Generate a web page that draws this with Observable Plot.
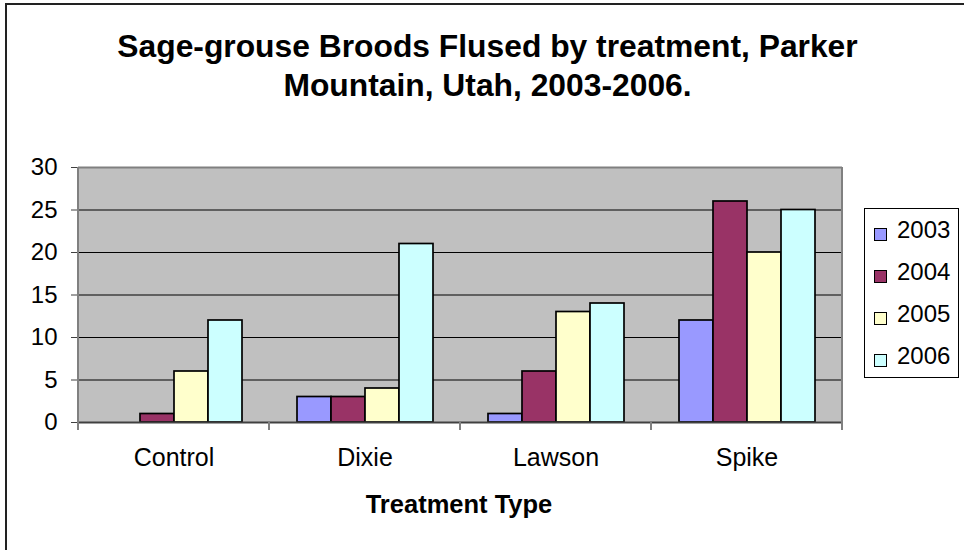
<!DOCTYPE html>
<html>
<head>
<meta charset="utf-8">
<script src="https://cdn.jsdelivr.net/npm/d3@7"></script>
<script src="https://cdn.jsdelivr.net/npm/@observablehq/plot@0.6"></script>
<style>
  body { margin: 0; background: #fff; }
  #wrap { position: relative; width: 964px; height: 550px; overflow: hidden;
          font-family: "Liberation Sans", Arial, sans-serif; color: #000; }
  #wrap svg { position: absolute; left: 0; top: 0; }
  .outer { position: absolute; left: 5px; top: 3px; width: 1000px; height: 600px;
           border-left: 2px solid #222; border-top: 2px solid #222; }
  .title { position: absolute; left: 0; width: 975px; text-align: center;
           font-weight: bold; font-size: 31.8px; line-height: 31.8px; white-space: nowrap; }
  .xtitle { position: absolute; left: 259px; width: 400px; text-align: center;
            font-weight: bold; font-size: 25.5px; line-height: 25.5px; top: 492px; }
  .legend { position: absolute; left: 864px; top: 208px; width: 93px; height: 168px;
            border: 1px solid #000; background: #fff; }
  .item { position: relative; height: 42px; font-size: 24px; line-height: 42px; }
  .sw { position: absolute; left: 9px; top: 19px; width: 11px; height: 11px; border: 1px solid #000; }
  .lab { position: absolute; left: 32px; top: 0; }
</style>
</head>
<body>
<div id="wrap"></div>
<script>
const categories = ["Control", "Dixie", "Lawson", "Spike"];
const years = ["2003", "2004", "2005", "2006"];
const values2003 = [0, 3, 1, 12];
const values2004 = [1, 3, 6, 26];
const values2005 = [6, 4, 13, 20];
const values2006 = [12, 21, 14, 25];
const yearColors = ["#9999FF", "#993366", "#FFFFCC", "#CCFFFF"];
const yTicks = [0, 5, 10, 15, 20, 25, 30];
const titleLines = ["Sage-grouse Broods Flused by treatment, Parker", "Mountain, Utah, 2003-2006."];
const xTitle = "Treatment Type";

const series = [values2003, values2004, values2005, values2006];
const data = categories.flatMap((c, i) => years.map((yr, j) => ({category: c, year: yr, value: series[j][i]})));

const plot = Plot.plot({
  width: 964, height: 550,
  marginLeft: 78, marginRight: 122, marginTop: 167, marginBottom: 128,
  style: {background: "transparent", fontFamily: "Liberation Sans, Arial, sans-serif", fontSize: "24px", color: "#000"},
  fx: {domain: categories, padding: 0},
  x: {domain: years, paddingInner: 0, paddingOuter: 0.75, axis: null},
  y: {domain: [0, 30]},
  color: {domain: years, range: yearColors},
  marks: [
    Plot.frame({fill: "#C0C0C0", stroke: "none", shapeRendering: "crispEdges"}),
    Plot.ruleY(yTicks.filter(t => t > 0 && t < 30), {stroke: "#000", strokeWidth: 1}),
    Plot.ruleY([30], {stroke: "#808080", strokeWidth: 2}),
    Plot.barY(data, {fx: "category", x: "year", y: "value", fill: "year", stroke: "#000", strokeWidth: 1.7, filter: d => d.value > 0}),
    Plot.ruleY([0], {stroke: "#404040", strokeWidth: 2}),
    Plot.axisY({ticks: yTicks, tickSize: 7, tickPadding: 14, fontSize: 24, label: null, stroke: "#404040"}),
    Plot.axisFx({anchor: "bottom", tickSize: 0, tickPadding: 26, fontSize: 25, label: null})
  ]
});

// plot-area border, y axis line and category boundary ticks, positioned with Plot's scales
const fx = plot.scale("fx"), y = plot.scale("y");
const bounds = categories.map(c => fx.apply(c)).concat([fx.apply(categories[categories.length - 1]) + fx.bandwidth]);
const svg = d3.select(plot);
const y0 = y.apply(0), y30 = y.apply(30);
const g = svg.append("g");
g.append("line").attr("x1", bounds[0]).attr("x2", bounds[0]).attr("y1", y30).attr("y2", y0)
  .attr("stroke", "#808080").attr("stroke-width", 2);
g.append("line").attr("x1", bounds[bounds.length - 1]).attr("x2", bounds[bounds.length - 1]).attr("y1", y30).attr("y2", y0)
  .attr("stroke", "#808080").attr("stroke-width", 2);
g.selectAll("line.bt").data(bounds).join("line").attr("class", "bt")
  .attr("x1", d => d).attr("x2", d => d).attr("y1", y0).attr("y2", y0 + 8)
  .attr("stroke", "#808080").attr("stroke-width", 2);

const wrap = document.getElementById("wrap");
const outer = document.createElement("div"); outer.className = "outer"; wrap.appendChild(outer);
wrap.appendChild(plot);

const titleTops = [31, 70];
titleLines.forEach((t, i) => {
  const d = document.createElement("div");
  d.className = "title"; d.style.top = titleTops[i] + "px"; d.textContent = t;
  wrap.appendChild(d);
});
const xt = document.createElement("div"); xt.className = "xtitle"; xt.textContent = xTitle; wrap.appendChild(xt);

const color = plot.scale("color");
const legend = document.createElement("div"); legend.className = "legend";
years.forEach(yr => {
  const it = document.createElement("div"); it.className = "item";
  const sw = document.createElement("div"); sw.className = "sw"; sw.style.background = color.apply(yr);
  const lb = document.createElement("div"); lb.className = "lab"; lb.textContent = yr;
  it.appendChild(sw); it.appendChild(lb); legend.appendChild(it);
});
wrap.appendChild(legend);
</script>
</body>
</html>
